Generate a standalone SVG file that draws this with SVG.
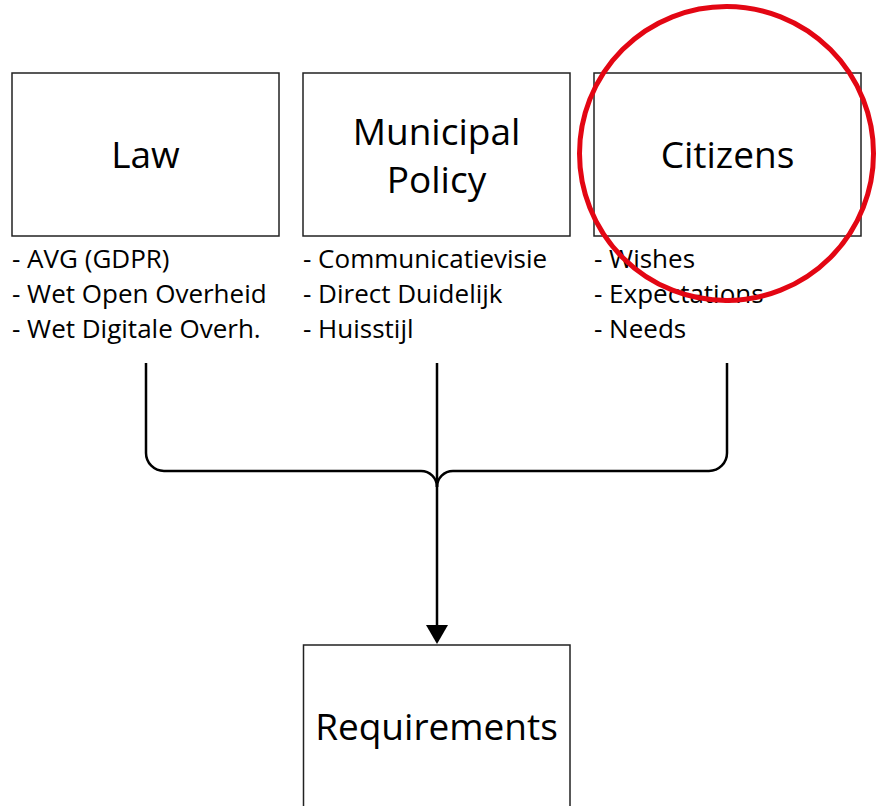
<svg xmlns="http://www.w3.org/2000/svg" width="877" height="806" viewBox="0 0 877 806">
  <style>
    .box { fill: #ffffff; stroke: #222222; stroke-width: 1.5; }
    .title { font-family: "Open Sans", "Noto Sans", "Liberation Sans", sans-serif; font-size: 37px; fill: #000000; text-anchor: middle; }
    .item { font-family: "Open Sans", "Noto Sans", "Liberation Sans", sans-serif; font-size: 26px; fill: #000000; }
    .conn { fill: none; stroke: #000000; stroke-width: 2.5; }
  </style>
  <defs>
    <marker id="arrow" markerWidth="10" markerHeight="10" refX="10" refY="5" orient="auto" markerUnits="userSpaceOnUse" viewBox="0 0 10 10">
      <path d="M0,0 L10,5 L0,10 Z" fill="#000000"/>
    </marker>
  </defs>
  <rect width="877" height="806" fill="#ffffff"/>

  <g id="law">
    <rect class="box" x="12" y="73" width="267" height="163"/>
    <text class="title" x="145.5" y="168">Law</text>
    <text class="item" x="12" y="268">- AVG (GDPR)</text>
    <text class="item" x="12" y="303">- Wet Open Overheid</text>
    <text class="item" x="12" y="338">- Wet Digitale Overh.</text>
  </g>

  <g id="municipal-policy">
    <rect class="box" x="303" y="73" width="267" height="163"/>
    <text class="title" x="436.5" y="145">Municipal</text>
    <text class="title" x="436.5" y="193">Policy</text>
    <text class="item" x="303" y="268">- Communicatievisie</text>
    <text class="item" x="303" y="303">- Direct Duidelijk</text>
    <text class="item" x="303" y="338">- Huisstijl</text>
  </g>

  <g id="citizens">
    <rect class="box" x="594" y="73" width="267" height="163"/>
    <text class="title" x="727.5" y="168">Citizens</text>
    <text class="item" x="594" y="268">- Wishes</text>
    <text class="item" x="594" y="303">- Expectations</text>
    <text class="item" x="594" y="338">- Needs</text>
  </g>

  <g id="requirements">
    <rect class="box" x="303.5" y="645" width="266.5" height="170"/>
    <text class="title" x="436.5" y="740">Requirements</text>
  </g>

  <g id="connectors">
    <path class="conn" d="M146,363 V453 A18,18 0 0 0 164,471 H421 A16,16 0 0 1 437,487"/>
    <path class="conn" d="M727,363 V453 A18,18 0 0 1 709,471 H453 A16,16 0 0 0 437,487"/>
    <path class="conn" d="M437,363 V626"/>
    <path d="M426,625 L448,625 L437,644 Z" fill="#000000"/>
  </g>

  <g id="highlight">
    <circle cx="726.5" cy="153.5" r="147" fill="none" stroke="#e30613" stroke-width="5"/>
  </g>
</svg>
